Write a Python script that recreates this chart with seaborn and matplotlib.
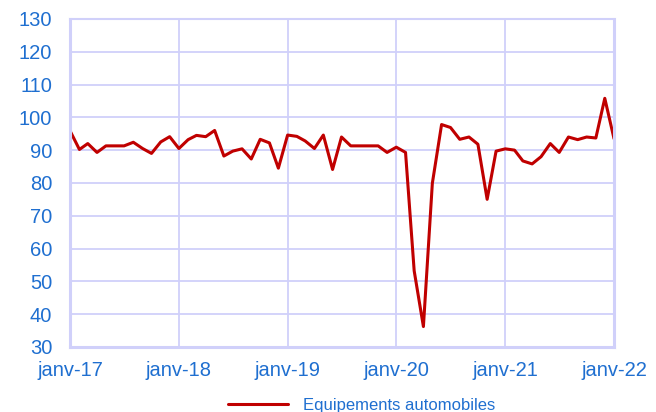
import pandas as pd
import matplotlib.pyplot as plt
import seaborn as sns

# Monthly index, janv-17 .. janv-22
months = pd.date_range("2017-01-01", "2022-01-01", freq="MS")
values = [
    95.8, 90.2, 92.0, 89.3, 91.3, 91.3, 91.3, 92.4, 90.5, 89.0, 92.5, 94.1,
    90.5, 93.2, 94.5, 94.1, 96.0, 88.2, 89.7, 90.4, 87.3, 93.3, 92.2, 84.5,
    94.6, 94.2, 92.8, 90.5, 94.6, 84.1, 94.0, 91.3, 91.3, 91.3, 91.3, 89.3,
    90.9, 89.3, 53.2, 36.2, 79.9, 97.8, 96.9, 93.3, 94.0, 91.8, 75.0, 89.7,
    90.4, 90.0, 86.7, 85.8, 88.0, 92.0, 89.3, 94.0, 93.2, 94.0, 93.7, 105.8,
    93.5,
]
tick_dates = pd.date_range("2017-01-01", "2022-01-01", freq="YS")
tick_labels = ["janv-17", "janv-18", "janv-19", "janv-20", "janv-21", "janv-22"]
y_ticks = list(range(30, 131, 10))
series_name = "Equipements automobiles"

df = pd.DataFrame({"mois": months, "indice": values})

sns.set_style("white")
plt.rcParams['font.family'] = ['Liberation Sans', 'DejaVu Sans']

grid_col = "#d0d0fa"
text_col = "#1f6fd0"

fig = plt.figure(figsize=(6.56, 4.12), dpi=100)
ax = fig.add_axes([0.107, 0.158, 0.829, 0.796])

sns.lineplot(data=df, x="mois", y="indice", color="#c00000", linewidth=2.2,
             label=series_name, ax=ax)

ax.set_xlim(tick_dates[0], tick_dates[-1])
ax.set_ylim(30, 130)
ax.set_xticks(tick_dates)
ax.set_xticklabels(tick_labels)
ax.set_yticks(y_ticks)
ax.set_xlabel("")
ax.set_ylabel("")

ax.grid(True, color=grid_col, linewidth=1.3)
ax.set_axisbelow(True)
for side in ["left", "right", "bottom", "top"]:
    ax.spines[side].set_color(grid_col)
    ax.spines[side].set_linewidth(2.2 if side != "top" else 1.5)

ax.tick_params(axis="x", colors=grid_col, length=5, width=1.3, pad=5,
               labelcolor=text_col, labelsize=14.5)
ax.tick_params(axis="y", length=0, pad=13, labelcolor=text_col, labelsize=14.5)

leg = ax.legend(loc="upper center", bbox_to_anchor=(0.535, -0.11), frameon=False,
                fontsize=12, handlelength=3.6, handletextpad=0.9)
for t in leg.get_texts():
    t.set_color(text_col)

fig.savefig("out.png", dpi=100)
